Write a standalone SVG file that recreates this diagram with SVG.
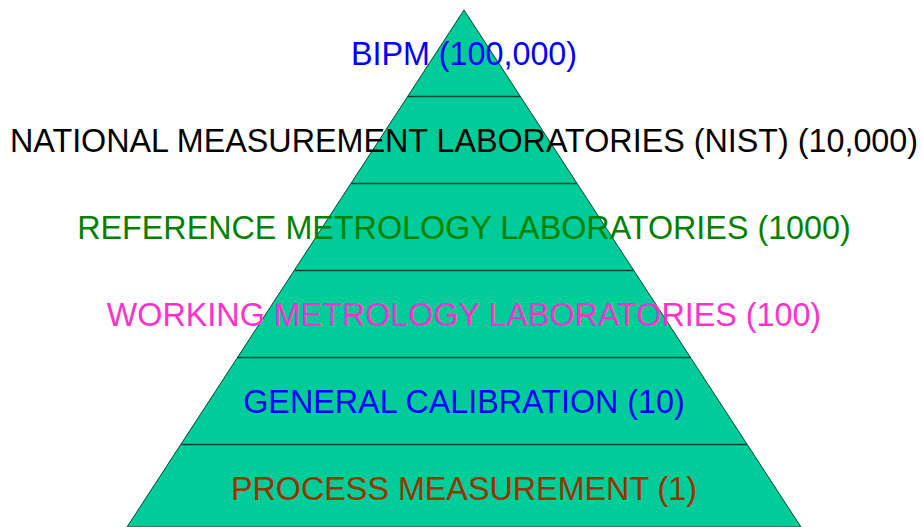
<svg xmlns="http://www.w3.org/2000/svg" width="922" height="527" viewBox="0 0 922 527">
  <style>
    .tier { fill: #00CC99; stroke: #004433; stroke-width: 1; }
    .band { stroke: #004433; stroke-width: 1.5; }
    .lbl { font-family: "Liberation Sans", Arial, sans-serif; font-size: 32.3px; text-anchor: middle; }
  </style>
  <rect width="922" height="527" fill="#ffffff"/>
  <g id="pyramid">
    <polygon class="tier" points="464,10 801,527 127,527"/>
  </g>
  <g id="connectors">
    <line class="band" x1="408" y1="96.5" x2="520" y2="96.5"/>
    <line class="band" x1="351.5" y1="183.5" x2="576.5" y2="183.5"/>
    <line class="band" x1="295" y1="270.5" x2="633" y2="270.5"/>
    <line class="band" x1="238" y1="357.5" x2="690" y2="357.5"/>
    <line class="band" x1="181.5" y1="444.5" x2="746.5" y2="444.5"/>
  </g>
  <g id="bipm"><text class="lbl" x="464" y="65" fill="#0000FF">BIPM (100,000)</text></g>
  <g id="nist"><text class="lbl" x="464" y="152" fill="#000000">NATIONAL MEASUREMENT LABORATORIES (NIST) (10,000)</text></g>
  <g id="reference"><text class="lbl" x="464" y="239" fill="#008000">REFERENCE METROLOGY LABORATORIES (1000)</text></g>
  <g id="working"><text class="lbl" x="464" y="326" fill="#FF33CC">WORKING METROLOGY LABORATORIES (100)</text></g>
  <g id="general"><text class="lbl" x="464" y="413" fill="#0000FF">GENERAL CALIBRATION (10)</text></g>
  <g id="process"><text class="lbl" x="464" y="500" fill="#993300">PROCESS MEASUREMENT (1)</text></g>
</svg>
